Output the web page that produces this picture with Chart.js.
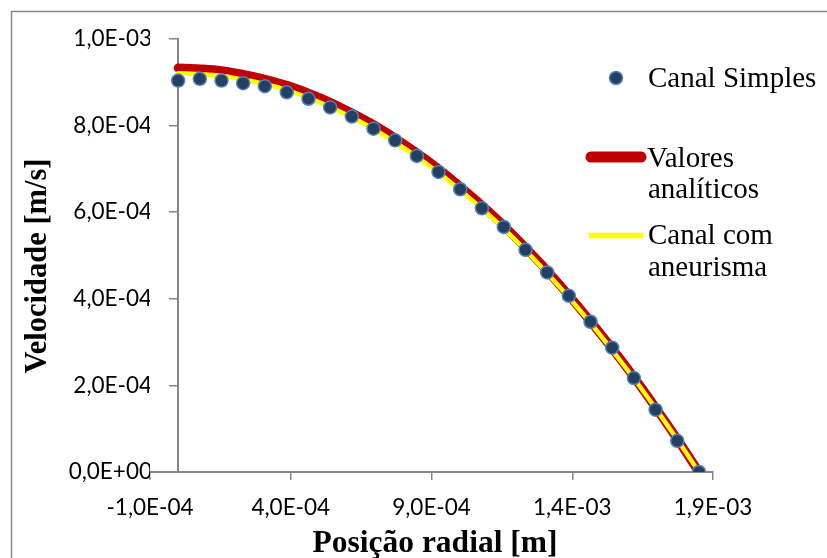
<!DOCTYPE html>
<html lang="pt">
<head>
  <meta charset="UTF-8">
  <title>Velocidade x Posição radial</title>
  <script src="https://cdn.jsdelivr.net/npm/chart.js"></script>
  <style>
    body { margin: 0; background: #fff; }
    canvas { display: block; }
  </style>
</head>
<body>
  <canvas id="chart" width="827" height="558"></canvas>

  <script>
    // radial position [m]
    const radialPos = [0, 7.7e-5, 1.54e-4, 2.31e-4, 3.08e-4, 3.86e-4, 4.63e-4, 5.40e-4, 6.17e-4,
      6.94e-4, 7.71e-4, 8.48e-4, 9.25e-4, 1.002e-3, 1.079e-3, 1.157e-3, 1.234e-3, 1.311e-3,
      1.388e-3, 1.465e-3, 1.542e-3, 1.619e-3, 1.696e-3, 1.773e-3, 1.85e-3];

    // velocity [m/s]
    const canalSimples = [9.04e-4, 9.08e-4, 9.04e-4, 8.98e-4, 8.91e-4, 8.77e-4, 8.62e-4, 8.42e-4,
      8.21e-4, 7.93e-4, 7.66e-4, 7.30e-4, 6.93e-4, 6.53e-4, 6.09e-4, 5.66e-4, 5.13e-4, 4.61e-4,
      4.07e-4, 3.47e-4, 2.87e-4, 2.17e-4, 1.44e-4, 7.2e-5, 0];
    const valoresAnaliticos = [9.33e-4, 9.31e-4, 9.27e-4, 9.18e-4, 9.07e-4, 8.93e-4, 8.75e-4, 8.54e-4,
      8.29e-4, 8.02e-4, 7.71e-4, 7.37e-4, 7.00e-4, 6.59e-4, 6.16e-4, 5.69e-4, 5.18e-4, 4.65e-4,
      4.08e-4, 3.48e-4, 2.85e-4, 2.19e-4, 1.49e-4, 7.6e-5, 0];
    const canalAneurisma = [9.21e-4, 9.19e-4, 9.15e-4, 9.06e-4, 8.96e-4, 8.82e-4, 8.64e-4, 8.43e-4,
      8.19e-4, 7.92e-4, 7.61e-4, 7.28e-4, 6.91e-4, 6.51e-4, 6.08e-4, 5.62e-4, 5.12e-4, 4.59e-4,
      4.03e-4, 3.44e-4, 2.81e-4, 2.16e-4, 1.47e-4, 7.5e-5, 0];

    const legendLabels = [['Canal Simples'], ['Valores', 'analíticos'], ['Canal com', 'aneurisma']];
    const xTitle = 'Posição radial [m]';
    const yTitle = 'Velocidade [m/s]';

    const axisGrey = '#868686';
    const tickFont = { family: 'Lato', size: 22.5 };

    const toPoints = ys => radialPos.map((x, i) => ({ x: x, y: ys[i] }));

    // 1,0E-03 style
    function sciLabel(v) {
      const s = Number(v).toExponential(1);
      const [m, e] = s.split('e');
      const sign = e[0] === '-' ? '-' : '+';
      const exp = e.replace(/[+-]/, '').padStart(2, '0');
      return m.replace('.', ',') + 'E' + sign + exp;
    }

    const frameAndLegend = {
      id: 'frameAndLegend',
      beforeDraw(chart) {
        const ctx = chart.ctx;
        ctx.save();
        ctx.fillStyle = '#fff';
        ctx.fillRect(0, 0, chart.width, chart.height);
        ctx.strokeStyle = axisGrey;
        ctx.lineWidth = 1.5;
        ctx.strokeRect(11.5, 11.5, 1000, 1000);
        ctx.restore();
      },
      afterDraw(chart) {
        const ctx = chart.ctx;
        ctx.save();

        // axis titles
        ctx.fillStyle = '#000';
        ctx.font = 'bold 31.5px "Liberation Serif"';
        ctx.textAlign = 'center';
        ctx.textBaseline = 'alphabetic';
        ctx.fillText(xTitle, 435, 552);
        ctx.save();
        ctx.translate(46, 266);
        ctx.rotate(-Math.PI / 2);
        ctx.font = 'bold 30.5px "Liberation Serif"';
        ctx.fillText(yTitle, 0, 0);
        ctx.restore();

        // marker: Canal Simples
        ctx.beginPath();
        ctx.arc(616, 78, 6.5, 0, Math.PI * 2);
        ctx.fillStyle = '#243F60';
        ctx.fill();
        ctx.lineWidth = 1.5;
        ctx.strokeStyle = '#4F81BD';
        ctx.stroke();
        // marker: Valores analíticos
        ctx.lineCap = 'round';
        ctx.beginPath();
        ctx.moveTo(591, 157);
        ctx.lineTo(641, 157);
        ctx.lineWidth = 11;
        ctx.strokeStyle = '#C00000';
        ctx.stroke();
        // marker: Canal com aneurisma
        ctx.beginPath();
        ctx.moveTo(591, 235.5);
        ctx.lineTo(641, 235.5);
        ctx.lineWidth = 5.5;
        ctx.strokeStyle = '#FFFF00';
        ctx.stroke();

        ctx.fillStyle = '#000';
        ctx.font = '29px "Liberation Serif"';
        ctx.textAlign = 'left';
        ctx.textBaseline = 'alphabetic';
        ctx.fillText(legendLabels[0][0], 648, 87);
        ctx.fillText(legendLabels[1][0], 647, 167);
        ctx.fillText(legendLabels[1][1], 648, 198);
        ctx.fillText(legendLabels[2][0], 648, 244);
        ctx.fillText(legendLabels[2][1], 648, 276);
        ctx.restore();
      }
    };

    new Chart(document.getElementById('chart'), {
      type: 'scatter',
      data: {
        datasets: [
          {
            label: 'Canal Simples',
            data: toPoints(canalSimples),
            showLine: false,
            pointRadius: 6.5,
            pointBackgroundColor: '#243F60',
            pointBorderColor: '#4F81BD',
            pointBorderWidth: 1.5
          },
          {
            label: 'Canal com aneurisma',
            data: toPoints(canalAneurisma),
            showLine: true,
            borderColor: '#FFFF00',
            borderWidth: 4.5,
            cubicInterpolationMode: 'monotone',
            borderCapStyle: 'round',
            borderJoinStyle: 'round',
            pointRadius: 0
          },
          {
            label: 'Valores analíticos',
            data: toPoints(valoresAnaliticos),
            showLine: true,
            borderColor: '#C00000',
            borderWidth: 9,
            cubicInterpolationMode: 'monotone',
            borderCapStyle: 'round',
            borderJoinStyle: 'round',
            pointRadius: 0
          }
        ]
      },
      options: {
        responsive: false,
        animation: false,
        devicePixelRatio: 1,
        layout: { padding: { top: 39, right: 114, left: 0, bottom: 0 } },
        plugins: {
          legend: { display: false },
          tooltip: { enabled: false }
        },
        scales: {
          x: {
            type: 'linear',
            position: 'bottom',
            min: -1e-4,
            max: 1.9e-3,
            afterFit: s => { s.height = 86; },
            border: { display: true, color: axisGrey, width: 2 },
            grid: { drawOnChartArea: false, drawTicks: true, tickLength: 8, color: axisGrey, lineWidth: 1.5 },
            ticks: { stepSize: 5e-4, padding: 14, color: '#000', font: tickFont, maxRotation: 0, callback: sciLabel }
          },
          y: {
            type: 'linear',
            position: 'left',
            min: 0,
            max: 1e-3,
            afterFit: s => { s.width = 150; },
            border: { display: false },
            grid: { display: false, drawTicks: false },
            ticks: { stepSize: 2e-4, padding: -2, color: '#000', font: tickFont, callback: sciLabel }
          },
          y2: {
            type: 'linear',
            axis: 'y',
            position: { x: 0 },
            min: 0,
            max: 1e-3,
            border: { display: true, color: axisGrey, width: 2 },
            grid: { drawOnChartArea: false, drawTicks: true, tickLength: 8, color: axisGrey, lineWidth: 1.5 },
            ticks: { stepSize: 2e-4, display: false }
          }
        }
      },
      plugins: [frameAndLegend]
    });
  </script>
</body>
</html>
